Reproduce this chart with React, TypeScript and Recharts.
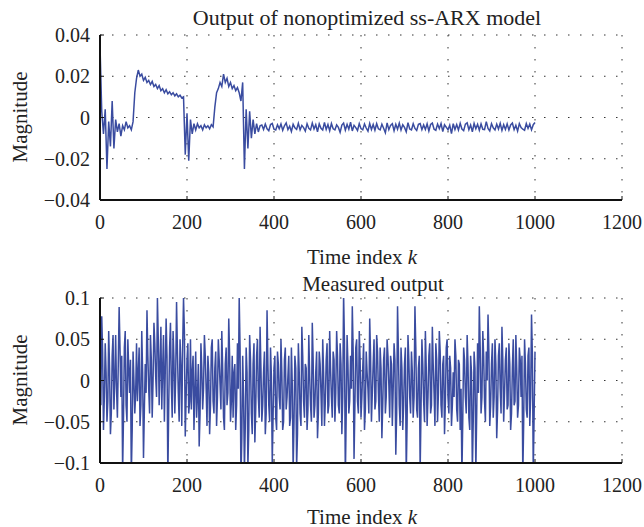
import React from 'react';
import { LineChart, Line, XAxis, YAxis, CartesianGrid } from 'recharts';

// sample spacing of the arrays below (time index k)
const STEP = 4;

const X_TICKS = [0, 200, 400, 600, 800, 1000, 1200];
const TOP_Y_TICKS = [-0.04, -0.02, 0, 0.02, 0.04];
const BOTTOM_Y_TICKS = [-0.1, -0.05, 0, 0.05, 0.1];

// Output of nonoptimized ss-ARX model, x1e-3, k = 0, 4, 8 ... 1000
const modelOutput = [
  35, 3, -8, 4, -25, -2, -14, 8, -15, -1, -7, -3, -9, -4, -6, -2, -5, -4, -6, -2,
  12, 19, 23, 20, 21, 18, 19.5, 17, 18, 16, 17.5, 15, 16, 14, 15.5, 13, 14, 12, 13.5, 11.5,
  12.5, 11, 12, 10.5, 11.5, 10, 10.8, 9.5, 10, -18, 2, -21, -1, -8, -3, -6, -3, -5, -4, -6,
  -3.5, -5, -4, -5.5, -3.5, -4.5, 5, 12, 14, 17, 15, 21, 17, 19, 15, 17, 14, 15.5, 13, 14.5,
  12, 8, 17, -25, 4, -15, 3, -10, -1, -8, -3, -7, -4,
  -3.6, -5.8, -3.2, -5.5, -6.4, -3.4, -2.9, -5.7, -6.1, -3.5,
  -5.4, -3.1, -6.2, -4.0, -2.6, -5.9, -4.2, -6.8, -3.3, -5.0,
  -5.8, -2.8, -6.0, -3.9, -4.9, -6.6, -3.0, -5.2, -6.0, -2.7,
  -5.6, -3.5, -6.9, -3.1, -5.2, -6.1, -2.4, -5.8, -3.4, -6.4,
  -2.9, -5.5, -6.0, -3.6, -4.8, -7.2, -3.7, -2.7, -6.1, -3.3,
  -5.7, -2.3, -6.5, -3.8, -4.9, -6.3, -3.0, -5.4, -6.0, -3.1,
  -5.1, -6.6, -2.9, -5.8, -3.4, -6.2, -3.0, -5.5, -6.0, -3.2,
  -5.2, -7.4, -2.6, -5.9, -3.8, -3.0, -6.4, -3.3, -5.7, -2.7,
  -6.1, -3.5, -4.8, -6.9, -2.5, -5.6, -6.0, -3.0, -5.3, -6.3,
  -3.3, -2.9, -5.9, -3.6, -5.8, -3.1, -6.5, -3.4, -2.7, -5.7,
  -6.2, -3.2, -5.4, -2.9, -6.8, -3.5, -4.7, -6.0, -3.7, -7.8,
  -3.0, -5.8, -3.4, -6.1, -2.8, -5.6, -6.4, -3.2, -2.6, -5.9,
  -3.6, -6.9, -2.9, -5.5, -3.3, -6.2, -3.1, -5.7, -5.9, -2.0,
  -5.3, -6.5, -3.0, -5.0, -6.0, -3.2, -5.6, -2.8, -6.3, -3.5,
  -5.8, -3.1, -6.1, -3.6, -2.7, -5.9, -3.8, -6.6, -3.0, -4.9,
  -5.7, -6.2, -2.9, -5.3, -3.2, -6.0, -3.5, -2.4,
];

// Measured output, x1e-3, k = 0, 4, 8 ... 1000 (values past +-100 are clipped by the axes)
const measuredOutput = [
  5, 78, -60, 45, -50, 60, -65, 30, -35, 55, -45, 89, -20, -110, 40, -30, 50, -15, -115, 35,
  -40, 45, 10, -55, 60, -94, 20, 85, -10, 55, -45, 70, 5, 100, -30, 65, 15, -50, 75, -120,
  40, -5, 60, -40, 95, -15, 50, -55, 100, -68, 25, -40, 50, 10, -60, 35, -20, -80, 45, -35,
  55, -10, 30, -65, 40, -25, 15, -55, 50, -5, 60, -45, 20, -30, 75, -50, 30, 10, -60, 45,
  100, -120, 30, -110, 40, -105, 55, -40, 20, -75, 30, -20, 65, -50, 10, -65, 85, -30, 40, -100,
  15, -45, 35, -20, 50, -60, 25, -35, 5, -55, 40, -110, 30, -105, 45, -40, 65, -25, 20, -60,
  55, -30, 70, -45, 10, -70, 35, -15, 50, -55, 25, -40, 60, -20, 35, -50, 60, -30, 45, -65,
  105, -120, 55, -40, 30, 90, -95, 40, -25, 60, -45, 15, -60, 35, -10, 75, -50, 20, -35, 55,
  -15, 40, -70, 25, -40, 50, -5, 30, -55, 45, -90, 90, -30, 40, -60, 20, -115, 55, -20, 35,
  -45, 90, -35, 15, -110, 50, -25, 60, -55, 30, -40, 65, -15, 45, -50, 60, -30, 20, -65, 40,
  -20, 30, -55, 10, 50, -35, 25, -60, -115, 40, -20, 55, -45, 30, -112, 35, -110, 45, 90, -40,
  60, -25, 35, 80, -55, 20, -45, 50, -70, 30, -10, 65, -50, 25, -35, 45, -60, 15, -30, 55,
  -45, 40, -20, -115, 50, -35, 30, -55, 80, -110, 35,
];

// Measured output in between, x1e-3, k = 2, 6, 10 ... 998
const measuredOutputMid = [
  -30, 35, -20, 10, -25, 15, -40, 55, 0, -10, 20, 40, 30, -45, 60, -50, 15, 25, -60, 0,
  -15, -25, 40, -30, 10, -35, -15, 30, -40, 25, 0, 45, -20, 50, 20, -35, 55, 10, 30, -30,
  70, -45, 25, 5, 35, -50, 20, 40, 60, -20, 45, -25, -35, 30, -15, -45, 20, -40, 15, -10,
  30, -55, 10, -30, 50, -40, 35, -20, 25, -35, 15, -60, 40, -15, 30, -25, -45, 20, -30, -10,
  40, -70, -20, -55, 10, -60, 25, -65, 45, -35, 50, -45, 15, -30, 35, -40, 20, -50, 5, -40,
  30, -60, 20, -35, 10, -50, 40, -20, 30, -45, -5, -50, 15, -65, 10, -55, 30, -45, 15, -35,
  5, -50, 25, -30, 35, -40, 20, -55, 10, -25, 45, -30, 15, -45, 25, -15, 30, -40, 20, -20,
  45, -40, 20, -25, -10, 35, -30, 50, -40, 25, -20, 45, -35, 10, -40, 30, -15, 50, -25, 35,
  -50, 15, -30, 40, -20, 30, -45, 20, -10, 25, -40, 35, -55, 15, -30, 40, -50, 25, -40, 10,
  -20, 40, -45, 30, -35, 20, -50, 15, -20, 45, -30, 20, -55, 25, -15, 35, -45, 30, -25, 50,
  -40, 15, -30, -20, 30, -50, 20, -10, -45, 25, -40, 20, -60, 10, -50, 15, -40, -15, 40, -20,
  30, -50, 0, 35, -30, 45, -20, 20, -35, 45, -40, 25, -15, 40, -30, 20, -40, 50, -25, 15,
  -30, 25, 30, -50, 20, -45, 40, -20, 30, -40,
];

const topData = modelOutput.map((v, i) => ({ k: i * STEP, y: v / 1000 }));
const bottomData = measuredOutput.flatMap((v, i) =>
  i < measuredOutputMid.length
    ? [{ k: i * STEP, y: v / 1000 }, { k: i * STEP + STEP / 2, y: measuredOutputMid[i] / 1000 }]
    : [{ k: i * STEP, y: v / 1000 }]
);

const FONT = '"Liberation Serif", "DejaVu Serif", serif';
const LINE_COLOR = '#3a4ca0';
const TICK_STYLE = { fill: '#222', fontSize: 20, fontFamily: FONT };
const AXIS_LINE = { stroke: '#111', strokeWidth: 2 };

const fmt = (v: number) => (v === 0 ? '0' : (v < 0 ? '\u2212' : '') + Math.abs(v));

function Label({ x, y, text, rotate, italicTail, size = 21 }: any) {
  return (
    <div
      style={{
        position: 'absolute',
        left: x,
        top: y,
        transform: `translate(-50%, -50%)${rotate ? ' rotate(-90deg)' : ''}`,
        whiteSpace: 'nowrap',
        fontFamily: FONT,
        fontSize: size,
        color: '#222',
        lineHeight: 1,
      }}
    >
      {text}
      {italicTail && <i>{italicTail}</i>}
    </div>
  );
}

function Panel({ data, yTicks, height }: any) {
  const domain = [yTicks[0], yTicks[yTicks.length - 1]];
  return (
    <LineChart width={644} height={height} data={data} margin={{ top: 35, right: 22, bottom: 0, left: 0 }}>
      <CartesianGrid stroke="#333" strokeDasharray="1.5 10.5" strokeWidth={1} />
      <XAxis
        dataKey="k"
        type="number"
        domain={[0, 1200]}
        ticks={X_TICKS}
        interval={0}
        height={height - 200}
        axisLine={AXIS_LINE}
        tickLine={{ stroke: '#111' }}
        tickSize={-4}
        tickMargin={19}
        tick={TICK_STYLE}
      />
      <XAxis
        xAxisId="top"
        orientation="top"
        dataKey="k"
        type="number"
        domain={[0, 1200]}
        ticks={X_TICKS}
        height={0}
        axisLine={AXIS_LINE}
        tickLine={{ stroke: '#111' }}
        tickSize={-4}
        tickFormatter={() => ''}
      />
      <YAxis
        type="number"
        domain={domain}
        ticks={yTicks}
        interval={0}
        width={100}
        allowDataOverflow
        axisLine={AXIS_LINE}
        tickLine={{ stroke: '#111' }}
        tickSize={-4}
        tickMargin={14}
        tick={TICK_STYLE}
        tickFormatter={fmt}
      />
      <YAxis
        yAxisId="right"
        orientation="right"
        type="number"
        domain={domain}
        ticks={yTicks}
        width={0}
        axisLine={AXIS_LINE}
        tickLine={{ stroke: '#111' }}
        tickSize={-4}
        tickFormatter={() => ''}
      />
      <Line
        type="linear"
        dataKey="y"
        stroke={LINE_COLOR}
        strokeWidth={1.5}
        dot={false}
        isAnimationActive={false}
      />
    </LineChart>
  );
}

export default function App() {
  return (
    <div style={{ position: 'absolute', left: 0, top: 0, width: 644, height: 527, background: '#fff', overflow: 'hidden' }}>
      <div style={{ position: 'absolute', left: 0, top: 0 }}>
        <Panel data={topData} yTicks={TOP_Y_TICKS} height={240} />
      </div>
      <div style={{ position: 'absolute', left: 0, top: 263 }}>
        <Panel data={bottomData} yTicks={BOTTOM_Y_TICKS} height={264} />
      </div>
      <Label x={367} y={18} text="Output of nonoptimized ss-ARX model" size={22} />
      <Label x={362} y={257} text="Time index " italicTail="k" />
      <Label x={20} y={117} text="Magnitude" rotate />
      <Label x={373} y={284} text="Measured output" />
      <Label x={362} y={517} text="Time index " italicTail="k" />
      <Label x={20} y={380} text="Magnitude" rotate />
    </div>
  );
}
